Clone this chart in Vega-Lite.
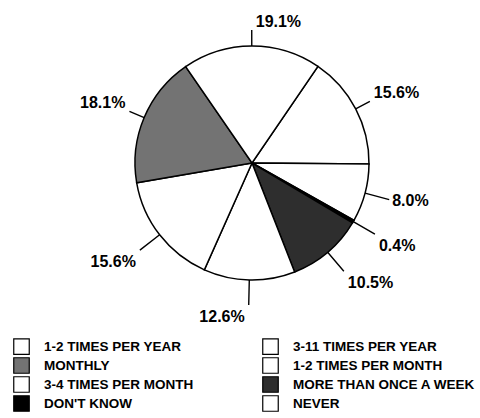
{
  "$schema": "https://vega.github.io/schema/vega-lite/v6.json",
  "width": 456,
  "height": 326,
  "padding": {"left": 24, "top": 0, "right": 0, "bottom": 92},
  "autosize": {"type": "none"},
  "background": "white",
  "config": {"view": {"stroke": null}, "font": "Liberation Sans"},
  "data": {
    "values": [
      {"cat": "1-2 TIMES PER YEAR", "value": 15.6},
      {"cat": "NEVER", "value": 8.0},
      {"cat": "DON'T KNOW", "value": 0.4},
      {"cat": "MORE THAN ONCE A WEEK", "value": 10.5},
      {"cat": "3-4 TIMES PER MONTH", "value": 12.6},
      {"cat": "1-2 TIMES PER MONTH", "value": 15.6},
      {"cat": "MONTHLY", "value": 18.1},
      {"cat": "3-11 TIMES PER YEAR", "value": 19.1}
    ]
  },
  "transform": [
    {"window": [{"op": "sum", "field": "value", "as": "cum"}], "frame": [null, 0]},
    {"calculate": "datum.cum - datum.value", "as": "start"},
    {"calculate": "datum.cum - datum.value / 2", "as": "mid"},
    {"calculate": "format(datum.value, '.1f') + '%'", "as": "label"}
  ],
  "layer": [
    {
      "mark": {"type": "arc", "outerRadius": 117, "stroke": "black", "strokeWidth": 1.5},
      "encoding": {
        "theta": {"field": "start", "type": "quantitative", "stack": null, "scale": {"type": "linear", "domain": [0, 99.9], "range": [0.5986, 6.8818]}},
        "theta2": {"field": "cum"},
        "color": {
          "field": "cat",
          "type": "nominal",
          "scale": {
            "domain": ["1-2 TIMES PER YEAR", "MONTHLY", "3-4 TIMES PER MONTH", "DON'T KNOW", "3-11 TIMES PER YEAR", "1-2 TIMES PER MONTH", "MORE THAN ONCE A WEEK", "NEVER"],
            "range": ["#ffffff", "#737373", "#ffffff", "#000000", "#ffffff", "#ffffff", "#2e2e2e", "#ffffff"]
          },
          "legend": {
            "orient": "none",
            "legendX": -11,
            "legendY": 338,
            "columns": 2,
            "title": null,
            "symbolType": "square",
            "symbolSize": 240,
            "symbolStrokeColor": "black",
            "symbolStrokeWidth": 1.2,
            "symbolOpacity": 1,
            "labelFont": "Liberation Sans",
            "labelFontSize": 13.5,
            "labelFontWeight": "bold",
            "labelColor": "black",
            "labelOffset": 14,
            "labelLimit": 300,
            "columnPadding": 66,
            "rowPadding": -3
          }
        }
      }
    },
    {
      "transform": [{"filter": {"field": "cat", "oneOf": ["3-11 TIMES PER YEAR", "1-2 TIMES PER YEAR", "MONTHLY"]}}],
      "mark": {"type": "arc", "innerRadius": 117, "outerRadius": 133, "stroke": "black", "strokeWidth": 1.4, "fill": null},
      "encoding": {
        "theta": {"field": "mid", "type": "quantitative", "stack": null, "scale": {"type": "linear", "domain": [0, 99.9], "range": [0.5986, 6.8818]}},
        "theta2": {"field": "mid"}
      }
    },
    {
      "transform": [{"filter": {"not": {"field": "cat", "oneOf": ["3-11 TIMES PER YEAR", "1-2 TIMES PER YEAR", "MONTHLY"]}}}],
      "mark": {"type": "arc", "innerRadius": 117, "outerRadius": 142, "stroke": "black", "strokeWidth": 1.4, "fill": null},
      "encoding": {
        "theta": {"field": "mid", "type": "quantitative", "stack": null, "scale": {"type": "linear", "domain": [0, 99.9], "range": [0.5986, 6.8818]}},
        "theta2": {"field": "mid"}
      }
    },
    {
      "transform": [{"filter": {"field": "cat", "oneOf": ["3-11 TIMES PER YEAR", "1-2 TIMES PER YEAR"]}}],
      "mark": {"type": "text", "radius": 133, "align": "left", "baseline": "bottom", "dx": 4, "dy": 0, "fontSize": 16, "fontWeight": "bold", "font": "Liberation Sans", "color": "black"},
      "encoding": {
        "theta": {"field": "mid", "type": "quantitative", "stack": null, "scale": {"type": "linear", "domain": [0, 99.9], "range": [0.5986, 6.8818]}},
        "text": {"field": "label"}
      }
    },
    {
      "transform": [{"filter": {"field": "cat", "oneOf": ["MONTHLY"]}}],
      "mark": {"type": "text", "radius": 133, "align": "right", "baseline": "bottom", "dx": -4, "dy": 0, "fontSize": 16, "fontWeight": "bold", "font": "Liberation Sans", "color": "black"},
      "encoding": {
        "theta": {"field": "mid", "type": "quantitative", "stack": null, "scale": {"type": "linear", "domain": [0, 99.9], "range": [0.5986, 6.8818]}},
        "text": {"field": "label"}
      }
    },
    {
      "transform": [{"filter": {"field": "cat", "oneOf": ["NEVER"]}}],
      "mark": {"type": "text", "radius": 142, "align": "left", "baseline": "middle", "dx": 3, "dy": 1, "fontSize": 16, "fontWeight": "bold", "font": "Liberation Sans", "color": "black"},
      "encoding": {
        "theta": {"field": "mid", "type": "quantitative", "stack": null, "scale": {"type": "linear", "domain": [0, 99.9], "range": [0.5986, 6.8818]}},
        "text": {"field": "label"}
      }
    },
    {
      "transform": [{"filter": {"field": "cat", "oneOf": ["DON'T KNOW", "MORE THAN ONCE A WEEK"]}}],
      "mark": {"type": "text", "radius": 142, "align": "left", "baseline": "top", "dx": 4, "dy": 4, "fontSize": 16, "fontWeight": "bold", "font": "Liberation Sans", "color": "black"},
      "encoding": {
        "theta": {"field": "mid", "type": "quantitative", "stack": null, "scale": {"type": "linear", "domain": [0, 99.9], "range": [0.5986, 6.8818]}},
        "text": {"field": "label"}
      }
    },
    {
      "transform": [{"filter": {"field": "cat", "oneOf": ["3-4 TIMES PER MONTH", "1-2 TIMES PER MONTH"]}}],
      "mark": {"type": "text", "radius": 142, "align": "right", "baseline": "top", "dx": -4, "dy": 4, "fontSize": 16, "fontWeight": "bold", "font": "Liberation Sans", "color": "black"},
      "encoding": {
        "theta": {"field": "mid", "type": "quantitative", "stack": null, "scale": {"type": "linear", "domain": [0, 99.9], "range": [0.5986, 6.8818]}},
        "text": {"field": "label"}
      }
    }
  ]
}
